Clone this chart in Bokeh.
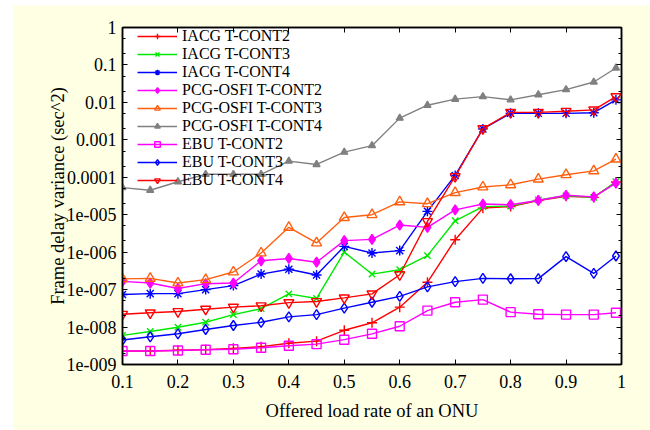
from bokeh.plotting import figure
from bokeh.models import Range1d, FixedTicker, LinearAxis, LogAxis, CustomJSTickFormatter
from bokeh.embed import file_html
from bokeh.resources import INLINE

x = [0.1, 0.15, 0.2, 0.25, 0.3, 0.35, 0.4, 0.45, 0.5, 0.55, 0.6, 0.65, 0.7, 0.75, 0.8, 0.85, 0.9, 0.95, 0.99]

iacg_t2 = [2.3e-9, 2.3e-9, 2.4e-9, 2.5e-9, 2.7e-9, 3.0e-9, 3.7e-9, 4.2e-9, 8.2e-9, 1.3e-8, 3.4e-8, 1.57e-7,
           2.15e-6, 1.5e-5, 1.66e-5, 2.4e-5, 3.1e-5, 2.9e-5, 7.5e-5]
iacg_t3 = [6.0e-9, 7.6e-9, 9.9e-9, 1.34e-8, 2.15e-8, 3.1e-8, 7.7e-8, 5.8e-8, 1.0e-6, 2.6e-7, 3.4e-7, 8.1e-7,
           6.9e-6, 1.65e-5, 1.7e-5, 2.5e-5, 3.2e-5, 2.9e-5, 7.6e-5]
iacg_t4 = [7.4e-8, 7.8e-8, 7.8e-8, 1.0e-7, 1.28e-7, 2.6e-7, 3.5e-7, 2.45e-7, 1.43e-6, 9.5e-7, 1.1e-6, 1.23e-5,
           1.12e-4, 1.96e-3, 5.1e-3, 5.1e-3, 5.1e-3, 5.3e-3, 1.17e-2]
pcg_t2 = [1.66e-7, 1.5e-7, 1.07e-7, 1.44e-7, 1.5e-7, 5.9e-7, 6.8e-7, 5.4e-7, 2.03e-6, 2.2e-6, 5.3e-6, 4.6e-6,
          1.35e-5, 1.93e-5, 1.85e-5, 2.4e-5, 3.3e-5, 3.0e-5, 7.0e-5]
pcg_t3 = [1.93e-7, 2.0e-7, 1.5e-7, 1.85e-7, 2.95e-7, 9.5e-7, 4.6e-6, 1.76e-6, 8.4e-6, 1.0e-5, 2.2e-5, 1.97e-5,
          3.9e-5, 5.5e-5, 6.3e-5, 8.9e-5, 1.17e-4, 1.48e-4, 3.05e-4]
pcg_t4 = [5.3e-5, 4.5e-5, 7.6e-5, 1.2e-4, 1.2e-4, 1.2e-4, 2.7e-4, 2.2e-4, 4.7e-4, 7.0e-4, 3.8e-3, 8.4e-3,
          1.22e-2, 1.43e-2, 1.17e-2, 1.6e-2, 2.2e-2, 3.5e-2, 8.3e-2]
ebu_t2 = [2.3e-9, 2.3e-9, 2.37e-9, 2.47e-9, 2.56e-9, 2.8e-9, 3.16e-9, 3.5e-9, 4.6e-9, 6.6e-9, 1.05e-8, 2.75e-8,
          4.6e-8, 5.4e-8, 2.5e-8, 2.2e-8, 2.15e-8, 2.15e-8, 2.4e-8]
ebu_t3 = [4.5e-9, 5.5e-9, 6.6e-9, 8.6e-9, 1.1e-8, 1.34e-8, 1.87e-8, 2.15e-8, 3.2e-8, 4.6e-8, 6.6e-8, 1.18e-7,
          1.63e-7, 2.0e-7, 1.95e-7, 1.97e-7, 7.6e-7, 2.7e-7, 7.9e-7]
ebu_t4 = [2.2e-8, 2.4e-8, 2.6e-8, 3.0e-8, 3.4e-8, 3.7e-8, 4.5e-8, 4.8e-8, 6.0e-8, 7.7e-8, 2.5e-7, 6.6e-6,
          1.05e-4, 2.0e-3, 5.4e-3, 5.4e-3, 5.8e-3, 6.3e-3, 1.43e-2]

series_names = ["IACG T-CONT2", "IACG T-CONT3", "IACG T-CONT4",
                "PCG-OSFI T-CONT2", "PCG-OSFI T-CONT3", "PCG-OSFI T-CONT4",
                "EBU T-CONT2", "EBU T-CONT3", "EBU T-CONT4"]
series_values = [iacg_t2, iacg_t3, iacg_t4, pcg_t2, pcg_t3, pcg_t4, ebu_t2, ebu_t3, ebu_t4]

x_ticks = [0.1, 0.2, 0.3, 0.4, 0.5, 0.6, 0.7, 0.8, 0.9, 1.0]
x_tick_labels = ["0.1", "0.2", "0.3", "0.4", "0.5", "0.6", "0.7", "0.8", "0.9", "1"]
y_ticks = [1e-9, 1e-8, 1e-7, 1e-6, 1e-5, 1e-4, 1e-3, 1e-2, 1e-1, 1.0]
y_tick_labels = ["1e-009", "1e-008", "1e-007", "1e-006", "1e-005", "0.0001", "0.001", "0.01", "0.1", "1"]
y_minor = [m * t for t in y_ticks[:-1] for m in (2, 5)]

# styles: (color, marker, size, filled)
styles = [
    ("#FF0000", "cross", 10, False),
    ("#00E800", "x", 9, False),
    ("#0000FF", "asterisk", 10, False),
    ("#FF00FF", "diamond", 10, True),
    ("#FF6010", "triangle", 10, False),
    ("#808080", "triangle", 7, True),
    ("#FF00FF", "square", 9, False),
    ("#0000FF", "diamond", 10, False),
    ("#FF0000", "inverted_triangle", 10, False),
]

FONT = "Liberation Serif"
CREAM = "#FFFFE4"

p = figure(width=637, height=425,
           x_range=Range1d(0.1, 1.0), y_range=Range1d(1e-9, 1.0),
           y_axis_type="log", output_backend="svg", toolbar_location=None,
           min_border_left=109, min_border_right=29, min_border_top=22, min_border_bottom=66,
           border_fill_color=CREAM, background_fill_color="white")
p.margin = (5, 0, 0, 13)
p.grid.visible = False
p.outline_line_color = "black"
p.outline_line_width = 1.5

for name, vals, (col, mk, sz, filled) in zip(series_names, series_values, styles):
    p.line(x, vals, line_color=col, line_width=1.4, legend_label=name)
    p.scatter(x, vals, marker=mk, size=sz, line_color=col, line_width=1.4,
              fill_color=col if filled else None, legend_label=name)

xax = p.xaxis[0]
xax.ticker = FixedTicker(ticks=x_ticks, minor_ticks=[])
xax.major_label_overrides = dict(zip(x_ticks, x_tick_labels))
yax = p.yaxis[0]
yax.ticker = FixedTicker(ticks=y_ticks, minor_ticks=y_minor)
yax.major_label_overrides = dict(zip(y_ticks, y_tick_labels))

for ax in (xax, yax):
    ax.major_label_text_font = FONT
    ax.major_label_text_font_size = "18px"
    ax.major_label_text_color = "black"
    ax.axis_label_text_font = FONT
    ax.axis_label_text_font_size = "18.5px"
    ax.axis_label_text_font_style = "normal"
    ax.axis_label_text_color = "black"
    ax.axis_line_color = "black"
    ax.axis_line_width = 1.5
    ax.major_tick_in = 5
    ax.major_tick_out = 0
    ax.minor_tick_in = 3
    ax.minor_tick_out = 0
    ax.major_tick_line_color = "black"
    ax.minor_tick_line_color = "black"

xax.axis_label = "Offered load rate of an ONU"
xax.major_label_standoff = 10
xax.axis_label_standoff = 10
yax.axis_label = "Frame delay variance (sec^2)"
yax.major_label_standoff = 6
yax.axis_label_standoff = -4

blank = CustomJSTickFormatter(code="return ''")
top = LinearAxis(ticker=FixedTicker(ticks=x_ticks, minor_ticks=[]), formatter=blank,
                 major_tick_in=5, major_tick_out=0, minor_tick_in=0, minor_tick_out=0,
                 axis_line_width=1.5, major_label_standoff=0)
right = LogAxis(ticker=FixedTicker(ticks=y_ticks, minor_ticks=y_minor), formatter=blank,
                major_tick_in=5, major_tick_out=0, minor_tick_in=3, minor_tick_out=0,
                axis_line_width=1.5, major_label_standoff=0)
p.add_layout(top, "above")
p.add_layout(right, "right")

leg = p.legend[0]
leg.location = (14, 174)
leg.margin = 0
leg.padding = 1
leg.background_fill_alpha = 0
leg.border_line_alpha = 0
leg.label_text_font = FONT
leg.label_text_font_size = "16px"
leg.label_text_color = "black"
leg.glyph_width = 40
leg.glyph_height = 14
leg.label_height = 14
leg.spacing = 0
leg.label_standoff = 5

open("out.html", "w").write(file_html(p, INLINE))
